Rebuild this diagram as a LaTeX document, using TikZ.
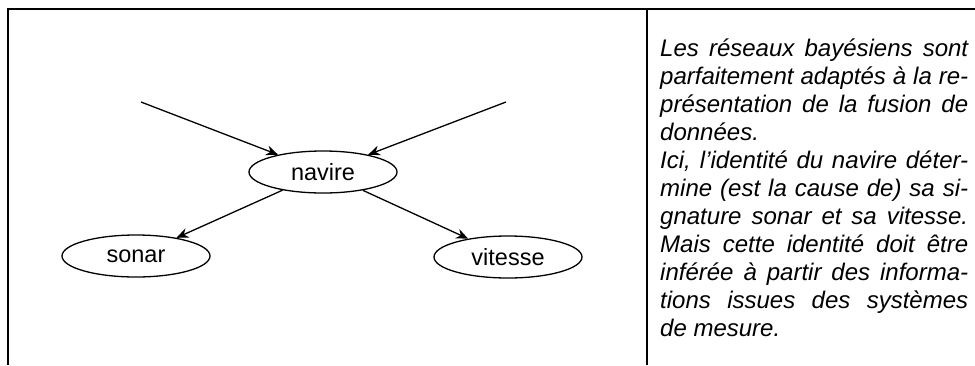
\documentclass[tikz,border=0pt]{standalone}
\usepackage{fontspec}
\setmainfont{Liberation Sans}
\usetikzlibrary{arrows.meta,shapes.geometric}
\begin{document}
\begin{tikzpicture}[x=1pt,y=-1pt,
  frame/.style={line width=2pt},
  var/.style={draw,ellipse,line width=1.3pt,minimum width=148pt,minimum height=42pt,inner sep=0pt,font=\fontsize{23.5}{28}\selectfont},
  link/.style={line width=1.3pt,-{Stealth[length=12pt,width=10pt,inset=4pt]}},
  txt/.style={inner sep=0pt,text width=308pt,align=justify,anchor=base west,font=\fontsize{24}{28}\selectfont\itshape}]
\useasboundingbox (0,0) rectangle (975,365);
\draw[frame] (7,9) -- (975,9);
\draw[frame] (8,8) -- (8,365);
\draw[frame] (647,9) -- (647,365);
\node[var] (navire) at (323,172) {navire};
\node[var] (sonar) at (136,256) {sonar};
\node[var] (vitesse) at (508,257) {vitesse};
\coordinate (tl) at (141,102);
\coordinate (tr) at (506,102);
\draw[link] (tl) -- (navire);
\draw[link] (tr) -- (navire);
\draw[link] (navire) -- (sonar);
\draw[link] (navire) -- (vitesse);
\node[txt] (texte) at (660,56) {\tolerance=10000 Les réseaux bayésiens sont\linebreak
parfaitement adaptés à la re-\linebreak
présentation de la fusion de\linebreak
données.\par
Ici, l’identité du navire déter-\linebreak
mine (est la cause de) sa si-\linebreak
gnature sonar et sa vitesse.\linebreak
Mais cette identité doit être\linebreak
inférée à partir des informa-\linebreak
tions issues des systèmes\linebreak
de mesure.};
\end{tikzpicture}
\end{document}
